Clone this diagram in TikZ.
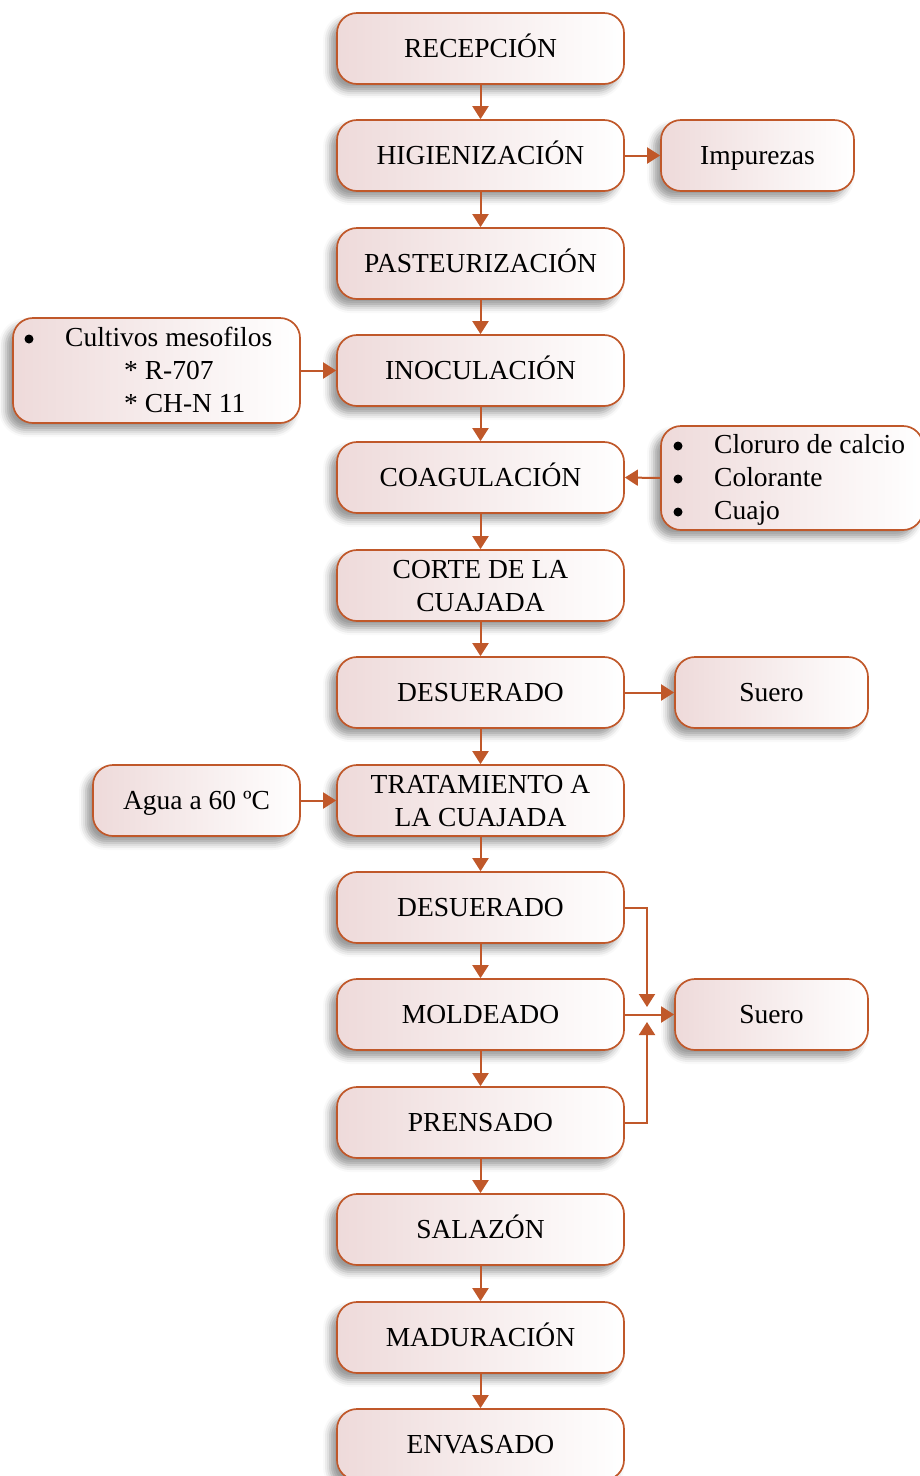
\documentclass[tikz,border=0pt]{standalone}
\usepackage{fontspec}
\setmainfont{Liberation Serif}
\usetikzlibrary{arrows.meta,shadows.blur}
\definecolor{edge}{RGB}{192,88,42}
\definecolor{pinkf}{RGB}{238,218,218}
\tikzset{
 box/.style={draw=edge, line width=1.7pt, rounded corners=20pt, left color=pinkf, right color=white,
   minimum height=71pt, minimum width=287pt, inner sep=0pt, align=center,
   text height=18.2pt, text depth=0pt,
   blur shadow={shadow xshift=-7pt, shadow yshift=-7pt, shadow blur radius=7pt, shadow opacity=40},
   font=\fontsize{27.5}{33}\selectfont},
 two/.style={text height=51.2pt, text depth=0pt},
 flow/.style={draw=edge, line width=2pt, -{Triangle[width=16pt,length=13pt]}},
 txt/.style={anchor=base west, inner sep=0pt, font=\fontsize{27.5}{33}\selectfont},
 dot/.style={circle, fill=black, inner sep=0pt, minimum size=9pt},
}
\begin{document}
\begin{tikzpicture}[x=1pt,y=-1pt]
\useasboundingbox (0,0) rectangle (919,1476);
% main column
\node[box] (rec) at (480.5,48.5) {RECEPCIÓN};
\node[box] (hig) at (480.5,155.5) {HIGIENIZACIÓN};
\node[box] (pas) at (480.5,263.5) {PASTEURIZACIÓN};
\node[box] (ino) at (480.5,370.5) {INOCULACIÓN};
\node[box] (coa) at (480.5,477.5) {COAGULACIÓN};
\node[box, two] (cor) at (480.5,585.5) {CORTE DE LA\\CUAJADA};
\node[box] (des) at (480.5,692.5) {DESUERADO};
\node[box, two] (tra) at (480.5,800.5) {TRATAMIENTO A\\LA CUAJADA};
\node[box] (dsb) at (480.5,907.5) {DESUERADO};
\node[box] (mol) at (480.5,1014.5) {MOLDEADO};
\node[box] (pre) at (480.5,1122.5) {PRENSADO};
\node[box] (sal) at (480.5,1229.5) {SALAZÓN};
\node[box] (mad) at (480.5,1337.5) {MADURACIÓN};
\node[box] (env) at (480.5,1444.5) {ENVASADO};
% side boxes
\node[box, minimum width=193pt] (imp) at (757.5,155.5) {Impurezas};
\node[box, minimum width=287pt, minimum height=105pt] (cul) at (156.5,370.5) {};
\node[box, minimum width=262pt, minimum height=104pt] (clo) at (792,478) {};
\node[box, minimum width=193pt] (su1) at (771.5,692.5) {Suero};
\node[box, minimum width=207pt] (agu) at (196.5,800.5) {Agua a 60 ºC};
\node[box, minimum width=193pt] (su2) at (771.5,1014.5) {Suero};
% list texts
\node[dot] (b1) at (29,339) {};
\node[txt] (c1) at (65,346) {Cultivos mesofilos};
\node[txt] (c2) at (124,379) {* R-707};
\node[txt] (c3) at (124,412) {* CH-N 11};
\node[dot] (b2) at (678,446) {};
\node[dot] (b3) at (678,479) {};
\node[dot] (b4) at (678,512) {};
\node[txt] (k1) at (714,453) {Cloruro de calcio};
\node[txt] (k2) at (714,486) {Colorante};
\node[txt] (k3) at (714,519) {Cuajo};
% connectors
\draw[flow] (rec) -- (hig);
\draw[flow] (hig) -- (pas);
\draw[flow] (pas) -- (ino);
\draw[flow] (ino) -- (coa);
\draw[flow] (coa) -- (cor);
\draw[flow] (cor) -- (des);
\draw[flow] (des) -- (tra);
\draw[flow] (tra) -- (dsb);
\draw[flow] (dsb) -- (mol);
\draw[flow] (mol) -- (pre);
\draw[flow] (pre) -- (sal);
\draw[flow] (sal) -- (mad);
\draw[flow] (mad) -- (env);
\draw[flow] (hig) -- (imp);
\draw[flow] (cul.east) -- (ino.west);
\draw[flow] (clo.west) -- (coa.east);
\draw[flow] (des) -- (su1);
\draw[flow] (agu) -- (tra);
\draw[flow] (mol) -- (su2);
\coordinate (m1) at (647,1007);
\coordinate (m2) at (647,1022);
\draw[flow] (dsb.east) -| (m1);
\draw[flow] (pre.east) -| (m2);
\end{tikzpicture}
\end{document}
